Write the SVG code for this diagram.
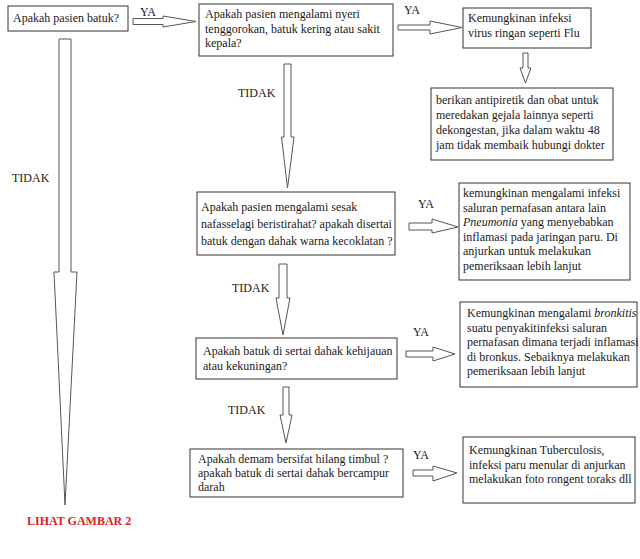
<svg xmlns="http://www.w3.org/2000/svg" width="640" height="559" viewBox="0 0 640 559">
<style>
.box{fill:#fff;stroke:#333;stroke-width:1}
.arr{fill:#fff;stroke:#555;stroke-width:1}
text{font-family:"Liberation Serif","Times New Roman",serif;font-size:12px;fill:#1a1a1a}
.red{fill:#e3221d;font-weight:bold}
</style>
<rect width="640" height="559" fill="#fff"/>
<g id="connectors">
<polygon class="arr" points="133,18.5 163,18.5 163,16 196,21.5 163,27 163,24.5 133,24.5"/>
<polygon class="arr" points="398,25 430,25 430,21 462,27.5 430,34 430,30 398,30"/>
<polygon class="arr" points="523,53 528,53 528,68 531,68 525.5,83 520,68 523,68"/>
<polygon class="arr" points="284,64 291,64 291,137 294,137 287.5,188 281.5,137 284,137"/>
<polygon class="arr" points="279,264 287,264 287,298 290,298 283,335 276,298 279,298"/>
<polygon class="arr" points="283,387 289,387 289,415 292,415 286,443 280,415 283,415"/>
<polygon class="arr" points="59,39 71,39 71,272 77,272 65,505 54,272 59,272"/>
<polygon class="arr" points="409,223 432,223 432,219 458,227 432,233 432,230 409,230"/>
<polygon class="arr" points="406,351 433,351 433,347 455,354 433,361 433,357 406,357"/>
<polygon class="arr" points="413,470 433,470 433,466 457,473 433,481 433,476 413,476"/>
<text x="140" y="16">YA</text>
<text x="404" y="14">YA</text>
<text x="418" y="208">YA</text>
<text x="413" y="336">YA</text>
<text x="413" y="459">YA</text>
<text x="12" y="182">TIDAK</text>
<text x="238" y="97">TIDAK</text>
<text x="232" y="292">TIDAK</text>
<text x="228" y="414">TIDAK</text>
</g>
<g id="n1"><rect class="box" x="8" y="6" width="120" height="25"/><text x="13" y="22">Apakah pasien batuk?</text></g>
<g id="n2"><rect class="box" x="199" y="4" width="194" height="52"/>
<text x="205" y="18">Apakah pasien mengalami nyeri</text>
<text x="205" y="32.5">tenggorokan, batuk kering atau sakit</text>
<text x="205" y="47">kepala?</text></g>
<g id="n3"><rect class="box" x="463" y="8" width="128" height="40"/>
<text x="468" y="22">Kemungkinan infeksi</text>
<text x="468" y="37">virus ringan seperti Flu</text></g>
<g id="n4"><rect class="box" x="431" y="88" width="182" height="72"/>
<text x="436" y="104">berikan antipiretik dan obat untuk</text>
<text x="436" y="119">meredakan gejala lainnya seperti</text>
<text x="436" y="134">dekongestan, jika dalam waktu <tspan fill="#223">48</tspan></text>
<text x="436" y="149">jam tidak membaik hubungi dokter</text></g>
<g id="n5"><rect class="box" x="197" y="192" width="198" height="63"/>
<text x="201" y="211">Apakah pasien mengalami sesak</text>
<text x="201" y="228">nafasselagi beristirahat? apakah disertai</text>
<text x="201" y="245">batuk dengan dahak warna kecoklatan ?</text></g>
<g id="n6"><rect class="box" x="459" y="183" width="171" height="97"/>
<text x="463" y="197">kemungkinan mengalami infeksi</text>
<text x="463" y="211.5">saluran pernafasan antara lain</text>
<text x="463" y="226"><tspan font-style="italic">Pneumonia</tspan> yang menyebabkan</text>
<text x="463" y="240.5">inflamasi pada jaringan paru. Di</text>
<text x="463" y="255">anjurkan untuk melakukan</text>
<text x="463" y="269.5">pemeriksaan lebih lanjut</text></g>
<g id="n7"><rect class="box" x="196" y="338" width="201" height="41"/>
<text x="203" y="355">Apakah batuk di sertai dahak kehijauan</text>
<text x="203" y="370">atau kekuningan?</text></g>
<g id="n8"><rect class="box" x="460" y="302" width="177" height="85"/>
<text x="467" y="317">Kemungkinan mengalami <tspan font-style="italic">bronkitis</tspan></text>
<text x="467" y="331.5">suatu penyakitinfeksi saluran</text>
<text x="467" y="346">pernafasan dimana terjadi inflamasi</text>
<text x="467" y="360.5">di bronkus. Sebaiknya melakukan</text>
<text x="467" y="375">pemeriksaan lebih lanjut</text></g>
<g id="n9"><rect class="box" x="190" y="449" width="213" height="48"/>
<text x="198" y="463">Apakah demam bersifat hilang timbul ?</text>
<text x="198" y="477">apakah batuk di sertai dahak bercampur</text>
<text x="198" y="491">darah</text></g>
<g id="n10"><rect class="box" x="463" y="437" width="172" height="66"/>
<text x="469" y="454">Kemungkinan Tuberculosis,</text>
<text x="469" y="468.5">infeksi paru menular di anjurkan</text>
<text x="469" y="483">melakukan foto rongent toraks dll</text></g>
<text class="red" x="27" y="525">LIHAT GAMBAR 2</text>
</svg>
